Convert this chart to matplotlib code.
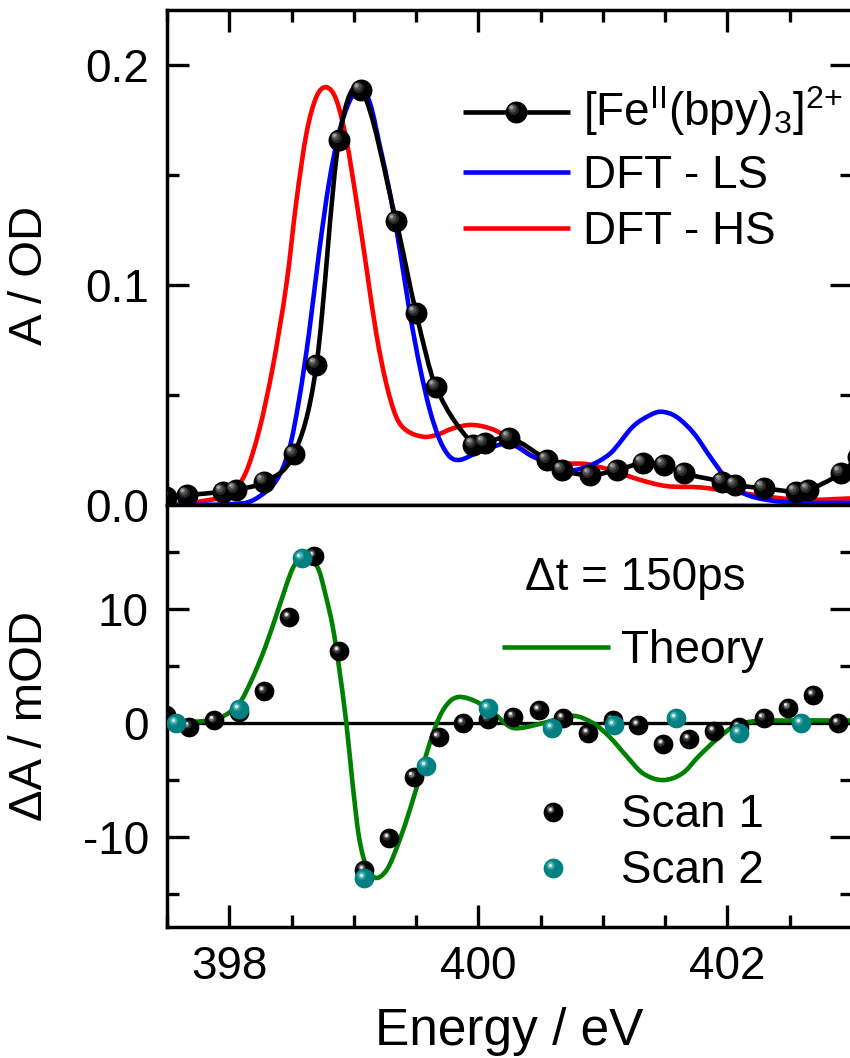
import numpy as np
import matplotlib
matplotlib.use("Agg")
import matplotlib.pyplot as plt
import matplotlib.transforms as mtransforms
from matplotlib.path import Path
from matplotlib.patches import PathPatch
from matplotlib.ticker import MultipleLocator, FixedLocator

plt.rcParams["font.family"] = ["Liberation Sans", "DejaVu Sans"]
plt.rcParams["mathtext.fontset"] = "custom"
plt.rcParams["mathtext.rm"] = "Liberation Sans"
plt.rcParams["mathtext.it"] = "Liberation Sans:italic"
plt.rcParams["axes.unicode_minus"] = False

# ---------------- data ----------------
# steady-state N K-edge spectrum of [Fe(bpy)3]2+
exp_E = [397.49, 397.66, 397.95, 398.05, 398.28, 398.52, 398.70, 398.88, 399.06,
         399.34, 399.50, 399.66, 399.96, 400.05, 400.25, 400.55, 400.67, 400.90,
         401.11, 401.32, 401.49, 401.65, 401.96, 402.06, 402.29, 402.55, 402.65,
         402.91, 403.05]
exp_A = [0.0038, 0.0045, 0.0060, 0.0068, 0.0106, 0.0232, 0.0636, 0.1660, 0.1886,
         0.1290, 0.0873, 0.0536, 0.0273, 0.0282, 0.0305, 0.0205, 0.0159, 0.0136,
         0.0159, 0.0190, 0.0182, 0.0144, 0.0106, 0.0091, 0.0076, 0.0060, 0.0068,
         0.0144, 0.0220]

# DFT low-spin spectrum
ls_E = [397.50, 398.11, 398.24, 398.38, 398.48, 398.56, 398.64, 398.72, 398.80,
        398.88, 398.97, 399.05, 399.13, 399.21, 399.29, 399.37, 399.45, 399.53,
        399.61, 399.69, 399.77, 399.85, 399.98, 400.12, 400.25, 400.44, 400.71,
        400.87, 401.06, 401.24, 401.38, 401.47, 401.59, 401.73, 401.86, 402.00,
        402.13, 402.32, 402.59, 403.00]
ls_A = [0.0000, 0.0008, 0.0038, 0.0114, 0.0250, 0.0477, 0.0780, 0.1144, 0.1462,
        0.1690, 0.1841, 0.1894, 0.1826, 0.1629, 0.1417, 0.1159, 0.0871, 0.0629,
        0.0432, 0.0295, 0.0220, 0.0205, 0.0235, 0.0265, 0.0280, 0.0220, 0.0159,
        0.0174, 0.0235, 0.0356, 0.0409, 0.0424, 0.0401, 0.0326, 0.0220, 0.0114,
        0.0053, 0.0023, 0.0010, 0.0010]

# DFT high-spin spectrum
hs_E = [397.50, 397.84, 398.01, 398.13, 398.24, 398.35, 398.46, 398.54, 398.62,
        398.70, 398.78, 398.86, 398.94, 399.02, 399.10, 399.18, 399.26, 399.34,
        399.42, 399.56, 399.66, 399.80, 399.94, 400.09, 400.23, 400.44, 400.71,
        400.87, 401.06, 401.30, 401.51, 401.78, 402.05, 402.32, 402.59, 403.00]
hs_A = [0.0000, 0.0023, 0.0053, 0.0144, 0.0340, 0.0629, 0.1008, 0.1386, 0.1690,
        0.1856, 0.1899, 0.1841, 0.1660, 0.1386, 0.1083, 0.0780, 0.0553, 0.0401,
        0.0340, 0.0310, 0.0318, 0.0349, 0.0364, 0.0349, 0.0310, 0.0220, 0.0190,
        0.0186, 0.0159, 0.0114, 0.0086, 0.0080, 0.0060, 0.0038, 0.0023, 0.0030]

# transient difference spectrum at 150 ps (mOD)
scan1_E = [397.49, 397.68, 397.88, 398.08, 398.28, 398.48, 398.68, 398.88, 399.08,
           399.28, 399.48, 399.68, 399.88, 400.08, 400.28, 400.49, 400.68, 400.88,
           401.08, 401.28, 401.48, 401.69, 401.89, 402.09, 402.29, 402.49, 402.69,
           402.89]
scan1_dA = [0.7, -0.3, 0.23, 1.0, 2.8, 9.3, 14.7, 6.3, -12.9,
            -10.1, -4.7, -1.2, 0.0, 0.35, 0.58, 1.17, 0.44, -0.88,
            0.23, -0.15, -1.84, -1.4, -0.73, -0.35, 0.44, 1.37, 2.48,
            0.0]

scan2_E = [397.57, 398.08, 398.58, 399.08, 399.58, 400.08, 400.59, 401.09, 401.59,
           402.09, 402.59]
scan2_dA = [0.0, 1.25, 14.5, -13.6, -3.75, 1.3, -0.44, -0.15, 0.44, -0.88, 0.0]

theory_E = [397.50, 397.70, 397.92, 398.08, 398.18, 398.29, 398.40, 398.51, 398.59,
            398.65, 398.72, 398.77, 398.83, 398.88, 398.94, 398.99, 399.04, 399.10,
            399.16, 399.21, 399.28, 399.37, 399.45, 399.53, 399.61, 399.69, 399.77,
            399.85, 399.98, 400.12, 400.25, 400.33, 400.52, 400.76, 400.92, 401.05,
            401.19, 401.32, 401.48, 401.64, 401.77, 401.91, 402.05, 402.20, 402.44,
            403.00]
theory_dA = [0.0, 0.1, 0.44, 1.75, 3.8, 6.7, 10.2, 13.6, 14.6,
             14.6, 13.4, 11.4, 8.5, 5.0, 0.0, -5.3, -9.9, -12.6,
             -13.5, -13.5, -12.6, -10.2, -7.6, -4.7, -1.75, 0.6, 1.9,
             2.3, 1.9, 0.9, -0.3, -0.44, 0.0, 0.64, 0.0, -1.17,
             -2.9, -4.4, -5.0, -4.4, -2.9, -1.46, -0.3, 0.15, 0.23,
             0.23]

top_labels = [r"[Fe$^{\mathrm{II}}$(bpy)$_{3}$]$^{2{+}}$", "DFT - LS", "DFT - HS"]
bottom_labels = ["Theory", "Scan 1", "Scan 2"]
delay_text = "\u0394t = 150ps"

C_EXP = "black"
C_LS = "#0000ff"
C_HS = "#ff0000"
C_TH = "#008000"
C_S2 = "#008080"
LW = 3.3

# ---------------- helpers ----------------
def smooth_path(x, y):
    """Cubic Hermite curve through the points, as Bezier segments."""
    x = np.asarray(x, float)
    y = np.asarray(y, float)
    n = len(x)
    m = np.empty(n)
    m[1:-1] = (y[2:] - y[:-2]) / (x[2:] - x[:-2])
    m[0] = (y[1] - y[0]) / (x[1] - x[0])
    m[-1] = (y[-1] - y[-2]) / (x[-1] - x[-2])
    verts = [(x[0], y[0])]
    codes = [Path.MOVETO]
    for i in range(n - 1):
        h = x[i + 1] - x[i]
        verts += [(x[i] + h / 3, y[i] + m[i] * h / 3),
                  (x[i + 1] - h / 3, y[i + 1] - m[i + 1] * h / 3),
                  (x[i + 1], y[i + 1])]
        codes += [Path.CURVE4] * 3
    return Path(verts, codes)


def smooth_line(ax, x, y, color, lw=LW, zorder=2):
    patch = PathPatch(smooth_path(x, y), fill=False, edgecolor=color, lw=lw,
                      zorder=zorder, capstyle="round", joinstyle="round")
    ax.add_patch(patch)
    return patch


# shaded "sphere" markers: base disc plus lighter discs shifted up-left
SHADES = {
    "black_big": ("black", [(0.50, "#262626", 0.15), (0.36, "#4e4e4e", 0.19),
                            (0.22, "#808080", 0.22), (0.10, "#b8b8b8", 0.24)]),
    "black": ("black", [(0.42, "#303030", 0.13), (0.28, "#777777", 0.15),
                        (0.15, "#eeeeee", 0.16)]),
    "teal": (C_S2, [(0.50, "#149090", 0.13), (0.34, "#58b4b4", 0.15),
                    (0.16, "#e6f6f6", 0.16)]),
}


def balls(ax, x, y, style, ms, transform=None, zorder=4, clip=True):
    base, shades = SHADES[style]
    fig = ax.figure
    tr = ax.transData if transform is None else transform
    ax.plot(x, y, "o", ms=ms, mfc=base, mec=base, mew=0, ls="none",
            transform=tr, zorder=zorder, clip_on=clip)
    for frac, col, off in shades:
        d = off * ms / 72.0
        tr_off = tr + mtransforms.ScaledTranslation(-d, d, fig.dpi_scale_trans)
        ax.plot(x, y, "o", ms=ms * frac, mfc=col, mec=col, mew=0, ls="none",
                transform=tr_off, zorder=zorder + 0.1, clip_on=clip)


# ---------------- figure ----------------
W, H = 850, 1058
fig = plt.figure(figsize=(W / 100, H / 100), dpi=100)
L, R = 167, 852
ax1 = fig.add_axes([L / W, (H - 505) / H, (R - L) / W, (505 - 10) / H])
ax2 = fig.add_axes([L / W, (H - 927) / H, (R - L) / W, (927 - 505) / H], sharex=ax1)

for ax in (ax1, ax2):
    for sp in ax.spines.values():
        sp.set_linewidth(2.5)
    ax.tick_params(which="both", direction="in", width=2.4, labelsize=33, pad=13)
    ax.tick_params(which="major", length=15.8)
    ax.tick_params(which="minor", length=8.6)
    ax.xaxis.set_major_locator(MultipleLocator(2))
    ax.xaxis.set_minor_locator(MultipleLocator(0.5))

ax1.set_xlim(397.5, 403.0)
ax1.set_ylim(0.0, 0.225)
ax1.yaxis.set_major_locator(FixedLocator([0.0, 0.1, 0.2]))
ax1.yaxis.set_minor_locator(FixedLocator([0.05, 0.15]))
ax1.set_yticklabels(["0.0", "0.1", "0.2"])
ax1.tick_params(which="both", top=True, bottom=False, right=True, left=True,
                labelbottom=False)

ax2.set_ylim(-17.9, 19.15)
ax2.yaxis.set_major_locator(FixedLocator([-10, 0, 10]))
ax2.yaxis.set_minor_locator(FixedLocator([-15, -5, 5, 15]))
ax2.set_yticklabels(["-10", "0", "10"])
ax2.tick_params(which="both", top=False, bottom=True, right=True, left=True)

# --- top panel: spectra ---
smooth_line(ax1, hs_E, hs_A, C_HS, zorder=2)
smooth_line(ax1, ls_E, ls_A, C_LS, zorder=2.5)
smooth_line(ax1, exp_E, exp_A, C_EXP, zorder=3)
balls(ax1, exp_E, exp_A, "black_big", ms=15.8, zorder=4)

ax1.set_ylabel("A / OD", fontsize=34)
ax1.yaxis.set_label_coords((52 - L) / (R - L), (505 - 275) / 495)


def fx(px):
    return (px - L) / (R - L)


def fy1(py):
    return (505 - py) / 495


def fy2(py):
    return (927 - py) / 422


# legend of the top panel
leg_rows = [(112, C_EXP, 126), (172, C_LS, 188), (228, C_HS, 244)]
for (yl, col, yb), lab in zip(leg_rows, top_labels):
    ax1.plot([fx(463), fx(570)], [fy1(yl), fy1(yl)], color=col, lw=LW,
             transform=ax1.transAxes, clip_on=False, zorder=5,
             solid_capstyle="butt")
    ax1.text(fx(583), fy1(yb), lab, transform=ax1.transAxes, fontsize=33,
             ha="left", va="baseline")
balls(ax1, [fx(516)], [fy1(112)], "black_big", ms=15.8,
      transform=ax1.transAxes, zorder=6, clip=False)

# --- bottom panel: transient difference ---
ax2.axhline(0, color="black", lw=2.4, zorder=1)
smooth_line(ax2, theory_E, theory_dA, C_TH, zorder=2)
balls(ax2, scan1_E, scan1_dA, "black", ms=14.2, zorder=4)
balls(ax2, scan2_E, scan2_dA, "teal", ms=14.2, zorder=5)

ax2.set_ylabel("\u0394A / mOD", fontsize=34)
ax2.yaxis.set_label_coords((52 - L) / (R - L), 0.5)
ax2.set_xlabel("Energy / eV", fontsize=37, labelpad=13)

ax2.text(fx(525), fy2(590), delay_text, transform=ax2.transAxes, fontsize=33,
         ha="left", va="baseline")
ax2.plot([fx(502), fx(610)], [fy2(647), fy2(647)], color=C_TH, lw=LW,
         transform=ax2.transAxes, clip_on=False, zorder=5, solid_capstyle="butt")
ax2.text(fx(621), fy2(663), bottom_labels[0], transform=ax2.transAxes,
         fontsize=33, ha="left", va="baseline")
balls(ax2, [fx(553)], [fy2(812)], "black", ms=14.2, transform=ax2.transAxes,
      zorder=6, clip=False)
ax2.text(fx(621), fy2(827), bottom_labels[1], transform=ax2.transAxes,
         fontsize=33, ha="left", va="baseline")
balls(ax2, [fx(553)], [fy2(868)], "teal", ms=14.2, transform=ax2.transAxes,
      zorder=6, clip=False)
ax2.text(fx(621), fy2(883), bottom_labels[2], transform=ax2.transAxes,
         fontsize=33, ha="left", va="baseline")

fig.savefig("out.png", dpi=100)
